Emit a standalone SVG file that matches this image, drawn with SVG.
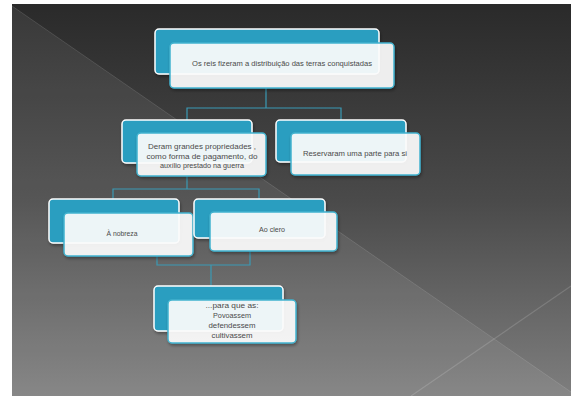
<svg xmlns="http://www.w3.org/2000/svg" width="571" height="396" viewBox="0 0 571 396">
<defs>
<linearGradient id="bg" x1="0" y1="0" x2="0" y2="1">
<stop offset="0" stop-color="#2a2a2a"/>
<stop offset="0.5" stop-color="#4a4a4a"/>
<stop offset="1" stop-color="#7e7e7e"/>
</linearGradient>
<filter id="sh" x="-10%" y="-10%" width="130%" height="140%">
<feDropShadow dx="1" dy="2" stdDeviation="1.5" flood-color="#000" flood-opacity="0.35"/>
</filter>
</defs>
<style>
.back{fill:#2a9ec0;stroke:#ffffff;stroke-width:1.5;filter:url(#sh)}
.front{fill:#ffffff;fill-opacity:0.9;stroke:#41b3cf;stroke-width:1.5;filter:url(#sh)}
.t{font-family:"Liberation Sans","DejaVu Sans",sans-serif;font-size:6.6px;fill:#4a4a4a;text-anchor:middle}
.c{fill:none;stroke:#3a9ab5;stroke-width:1.2}
</style>
<rect x="0" y="0" width="571" height="396" fill="#ffffff"/>
<rect x="12" y="4" width="559" height="392" fill="url(#bg)"/>
<polygon points="12,6 571,392 571,396 12,396" fill="#ffffff" fill-opacity="0.07"/>
<line x1="12" y1="6" x2="571" y2="392" stroke="#ffffff" stroke-opacity="0.12" stroke-width="1"/>
<line x1="411" y1="396" x2="571" y2="286" stroke="#ffffff" stroke-opacity="0.15" stroke-width="1.2"/>

<g id="connectors">
<path class="c" d="M266,88 V108 M187,120 V108 H341 V120"/>
<path class="c" d="M187,176 V189 M113,200 V189 H259 V200"/>
<path class="c" d="M157,256 V265 H250 V251 M211,265 V286"/>
</g>

<g id="n1">
<rect class="back" x="155" y="29" width="224" height="45" rx="4"/>
<rect class="front" x="170" y="43" width="224" height="45" rx="4"/>
<text class="t" x="282" y="66" textLength="180" lengthAdjust="spacingAndGlyphs">Os reis fizeram a distribuição das terras conquistadas</text>
</g>

<g id="n2">
<rect class="back" x="122" y="120" width="130" height="43" rx="4"/>
<rect class="front" x="137" y="133" width="129" height="43" rx="4"/>
<text class="t" x="202" y="149" textLength="108" lengthAdjust="spacingAndGlyphs">Deram grandes propriedades ,</text>
<text class="t" x="202" y="158.5" textLength="111" lengthAdjust="spacingAndGlyphs">como forma de pagamento, do</text>
<text class="t" x="202" y="168" textLength="84" lengthAdjust="spacingAndGlyphs">auxílio prestado na guerra</text>
</g>

<g id="n3">
<rect class="back" x="276" y="120" width="130" height="42" rx="4"/>
<rect class="front" x="291" y="133" width="129" height="42" rx="4"/>
<text class="t" x="355" y="156" textLength="104" lengthAdjust="spacingAndGlyphs">Reservaram uma parte para si</text>
</g>

<g id="n4">
<rect class="back" x="49" y="199" width="130" height="44" rx="4"/>
<rect class="front" x="64" y="213" width="129" height="43" rx="4"/>
<text class="t" x="122" y="236" textLength="31" lengthAdjust="spacingAndGlyphs">À nobreza</text>
</g>

<g id="n5">
<rect class="back" x="194" y="199" width="131" height="39" rx="4"/>
<rect class="front" x="210" y="212" width="127" height="39" rx="4"/>
<text class="t" x="272" y="232" textLength="26" lengthAdjust="spacingAndGlyphs">Ao clero</text>
</g>

<g id="n6">
<rect class="back" x="154" y="286" width="129" height="45" rx="4"/>
<rect class="front" x="168" y="300" width="128" height="43" rx="4"/>
<text class="t" x="232" y="308" textLength="53" lengthAdjust="spacingAndGlyphs">...para que as:</text>
<text class="t" x="232" y="318" textLength="38" lengthAdjust="spacingAndGlyphs">Povoassem</text>
<text class="t" x="232" y="328" textLength="47" lengthAdjust="spacingAndGlyphs">defendessem</text>
<text class="t" x="232" y="338" textLength="41" lengthAdjust="spacingAndGlyphs">cultivassem</text>
</g>
</svg>
